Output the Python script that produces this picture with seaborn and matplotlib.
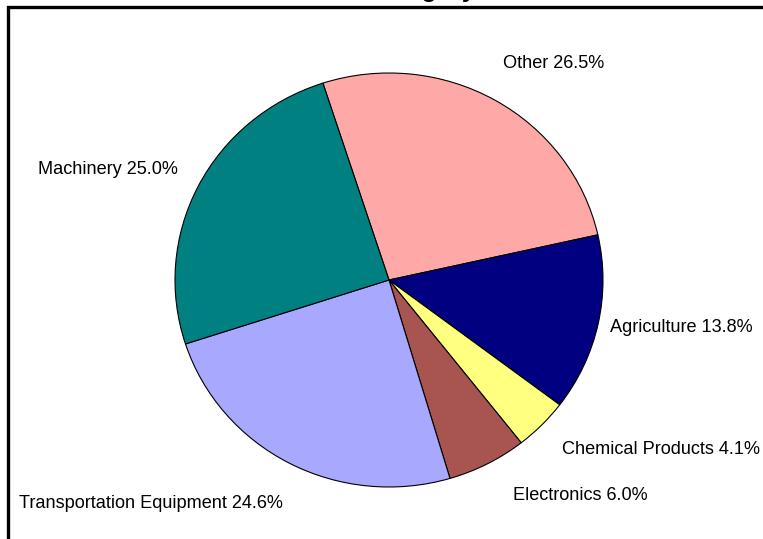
import matplotlib
matplotlib.use("Agg")
import matplotlib.pyplot as plt
import seaborn as sns
from matplotlib.patches import Rectangle

# Daten (im Uhrzeigersinn ab "Other")
categories = ["Other", "Agriculture", "Chemical Products", "Electronics",
              "Transportation Equipment", "Machinery"]
shares = [26.5, 13.8, 4.1, 6.0, 24.6, 25.0]
slice_colors = ["#FFA8A8", "#000080", "#FFFF80", "#A85450", "#A8A8FF", "#008080"]

# Etikettenpositionen in Pixeln (links, Mitte)
label_pos = [(503, 63), (610, 327), (562, 449), (513, 495), (19, 503), (38, 170)]

W, H = 763, 539
sns.set_theme(style="white")
plt.rcParams["font.family"] = ["Liberation Sans", "DejaVu Sans"]

fig = plt.figure(figsize=(W / 100, H / 100), dpi=100)
fig.patch.set_facecolor("white")

# Tortendiagramm leicht elliptisch wie im Original
cx, cy, rx, ry = 389, 280, 214, 207
ax = fig.add_axes([(cx - rx) / W, (H - cy - ry) / H, 2 * rx / W, 2 * ry / H])
palette = sns.color_palette(slice_colors)
ax.pie(shares, colors=palette, startangle=108, counterclock=False,
       wedgeprops=dict(edgecolor="black", linewidth=0.8))
ax.set_aspect("auto")
ax.set_xlim(-1, 1)
ax.set_ylim(-1, 1)
ax.axis("off")

for cat, val, (px, py) in zip(categories, shares, label_pos):
    fig.text(px / W, 1 - py / H, f"{cat} {val:.1f}%", ha="left", va="center",
             fontsize=13.1, color="black")

# Rahmen (rechts und unten abgeschnitten)
fig.patches.append(Rectangle((7.5 / W, -0.1), 1.2, 1 - 6.5 / H + 0.1,
                             transform=fig.transFigure, fill=False,
                             edgecolor="black", linewidth=2.4))

# Titel, oben abgeschnitten (nur Unterlängen sichtbar)
fig.text(476 / W, 1 + 2.5 / H, "Market Share of Each Category", ha="right",
         va="baseline", fontsize=18, fontweight="bold", color="black")

fig.savefig("out.png", dpi=100)
